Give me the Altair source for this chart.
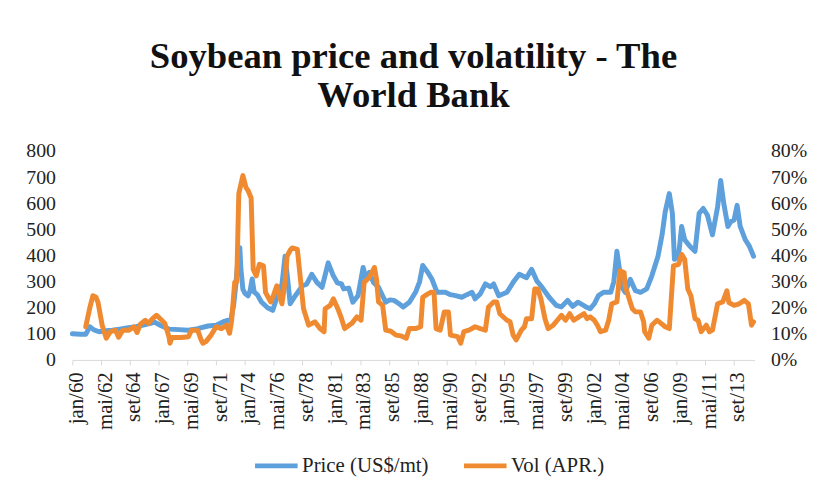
import altair as alt
import pandas as pd

# ---- data (month index: 0 = jan/1960) ----
x_tick_labels = ["jan/60", "mai/62", "set/64", "jan/67", "mai/69", "set/71", "jan/74", "mai/76",
                 "set/78", "jan/81", "mai/83", "set/85", "jan/88", "mai/90", "set/92", "jan/95",
                 "mai/97", "set/99", "jan/02", "mai/04", "set/06", "jan/09", "mai/11", "set/13"]

price_month = [0, 8, 13, 17, 21, 26, 33, 39, 46, 53, 62, 70, 76, 80, 86, 94, 104, 113, 122, 132,
               140, 148, 151, 154, 157, 159, 161, 163, 164, 166, 168, 171, 173, 175, 177, 180, 184,
               190, 195, 200, 204, 207, 209, 212, 217, 224, 228, 233, 238, 243, 249, 254, 258, 262,
               264, 269, 273, 278, 283, 286, 289, 293, 298, 305, 309, 313, 318, 322, 328, 334, 338,
               341, 346, 350, 355, 363, 368, 373, 379, 384, 389, 392, 397, 402, 407, 410, 415, 423,
               429, 435, 442, 447, 452, 456, 464, 471, 476, 482, 487, 492, 500, 504, 508, 512, 517,
               524, 527, 530, 535, 538, 543, 548, 553, 559, 564, 570, 574, 577, 581, 584, 586, 590,
               593, 596, 601, 606, 610, 614, 618, 623, 628, 631, 634, 638, 641, 644, 647, 650, 655,
               659, 663]
price_value = [100, 98, 98, 127, 115, 108, 112, 114, 118, 122, 127, 134, 140, 145, 132, 118, 116, 114,
               120, 130, 133, 148, 152, 148, 210, 284, 380, 430, 350, 270, 255, 245, 265, 310, 260,
               250, 222, 200, 190, 250, 290, 397, 330, 215, 246, 284, 290, 328, 297, 278, 372, 322,
               295, 291, 272, 275, 221, 246, 354, 309, 335, 297, 278, 221, 230, 228, 215, 203, 221,
               259, 300, 362, 335, 309, 259, 259, 250, 246, 240, 250, 259, 234, 253, 291, 280, 291,
               246, 259, 297, 328, 315, 347, 303, 284, 240, 209, 203, 228, 205, 221, 203, 196, 215,
               246, 259, 259, 300, 416, 278, 259, 309, 265, 259, 272, 322, 397, 480, 567, 637, 561,
               385, 400, 511, 460, 435, 416, 561, 580, 555, 479, 586, 687, 599, 511, 530, 536, 592,
               511, 460, 435, 397]

vol_month = [13, 17, 20, 23, 25, 29, 33, 37, 42, 45, 49, 55, 60, 63, 66, 71, 74, 78, 82, 87, 90, 94,
             95, 97, 106, 113, 116, 122, 125, 127, 130, 135, 140, 145, 150, 153, 155, 158, 160, 162,
             166, 169, 171, 174, 176, 179, 182, 186, 188, 193, 196, 199, 202, 204, 207, 209, 212,
             214, 219, 222, 225, 230, 236, 241, 245, 246, 251, 254, 259, 262, 265, 272, 277, 281,
             284, 289, 294, 296, 298, 302, 305, 310, 315, 320, 325, 328, 334, 339, 341, 346, 349,
             352, 354, 358, 362, 366, 368, 375, 378, 381, 386, 392, 397, 402, 405, 410, 413, 416,
             423, 426, 429, 432, 437, 440, 442, 447, 450, 453, 456, 460, 463, 468, 472, 476, 480,
             484, 488, 493, 498, 501, 504, 508, 511, 514, 519, 522, 525, 530, 533, 537, 538, 541,
             545, 548, 553, 556, 557, 561, 564, 569, 573, 577, 581, 585, 590, 593, 596, 599, 602,
             606, 609, 612, 617, 620, 623, 628, 633, 637, 639, 644, 649, 654, 658, 661, 663]
vol_value = [12.7, 20, 24.6, 24, 22, 13.3, 8.3, 10.8, 11.4, 8.7, 11.4, 11.4, 12.7, 10.5, 13.6, 15.2,
             14, 15.8, 17.1, 15.2, 14, 8.9, 6.4, 8.6, 8.6, 8.9, 11.4, 11.4, 8, 6.4, 7, 9.5, 12.7, 12,
             13.3, 10.2, 15, 29.7, 30, 63.7, 70.6, 66, 64.9, 62, 34.7, 32.2, 36.6, 36, 25.9, 22.2,
             25, 28.4, 24, 21.5, 30, 39.7, 42, 42.9, 42.3, 30.9, 19.6, 13.3, 14.6, 12, 10.8, 19.6,
             20.9, 23.4, 19, 15.8, 12, 14, 16.5, 15.2, 29.7, 31.6, 35.4, 31, 22.2, 20.9, 11.4, 11,
             9.5, 9.2, 8.3, 12, 12, 12.7, 24, 25.3, 25.9, 25.9, 12, 11.4, 18.4, 18.4, 9.5, 8.9, 6.4,
             10.8, 11.4, 12.7, 12, 11.4, 20.3, 22.2, 22.2, 17.7, 15.2, 14.6, 9.5, 7.7, 11.4, 12.7,
             15.8, 15.8, 27.2, 27.2, 23.4, 15.8, 12, 13.3, 15.2, 17.1, 15.2, 17.7, 15.2, 16.5, 17.7,
             15.8, 16.5, 15.2, 13.3, 10.8, 11.4, 15.2, 21.5, 22.2, 34.1, 33.5, 28.4, 24.6, 19.6,
             18.4, 18.4, 14.6, 10.8, 8.3, 13.3, 15.2, 14, 12.7, 12, 36, 36.6, 40.4, 38.5, 27.2, 24.6,
             15.8, 15.2, 10.8, 13.3, 10.8, 11.4, 21.5, 22.2, 26.5, 22, 20.9, 21.5, 22.8, 21.5, 13.3,
             14.6]

series_names = ["Price (US$/mt)", "Vol (APR.)"]
series_colors = ["#5DA0DC", "#F08A30"]
price_ticks = list(range(0, 801, 100))
vol_ticks = list(range(0, 81, 10))

price_df = pd.DataFrame({"month": price_month, "value": price_value, "series": series_names[0]})
vol_df = pd.DataFrame({"month": vol_month, "value": vol_value, "series": series_names[1]})

FONT = "Liberation Serif"
TXT = "#222222"
label_js = "[" + ",".join("'%s'" % s for s in x_tick_labels) + "]"

x_enc = alt.X(
    "month:Q",
    scale=alt.Scale(domain=[0, 664], nice=False, zero=False),
    axis=alt.Axis(
        values=[i * 28 for i in range(len(x_tick_labels))],
        labelExpr=label_js + "[round(datum.value/28)]",
        labelAngle=270, labelAlign="right", labelBaseline="middle",
        labelFont=FONT, labelFontSize=21, labelColor=TXT, labelPadding=7,
        labelOverlap=False, labelFlush=False, labelOffset=4,
        tickSize=5, tickColor="#d9d9d9", domainColor="#d9d9d9", domainWidth=1,
        grid=False, title=None,
    ),
)

color_scale = alt.Scale(domain=series_names, range=series_colors)
legend = alt.Legend(
    title=None, orient="none", legendX=182, legendY=294, direction="horizontal",
    symbolType="stroke", symbolSize=1849, symbolStrokeWidth=5,
    labelFont=FONT, labelFontSize=21, labelColor=TXT, labelOffset=2,
    columnPadding=25, padding=0,
)
color_enc = alt.Color("series:N", scale=color_scale, legend=legend)

price_line = alt.Chart(price_df).mark_line(strokeWidth=5, strokeJoin="round", strokeCap="round").encode(
    x=x_enc,
    y=alt.Y("value:Q", scale=alt.Scale(domain=[0, 800], nice=False),
            axis=alt.Axis(values=price_ticks, orient="left", domain=False, ticks=False, grid=False,
                          labelFont=FONT, labelFontSize=20, labelColor=TXT, labelPadding=17, title=None)),
    color=color_enc,
)

vol_line = alt.Chart(vol_df).mark_line(strokeWidth=5, strokeJoin="round", strokeCap="round").encode(
    x=x_enc,
    y=alt.Y("value:Q", scale=alt.Scale(domain=[0, 80], nice=False),
            axis=alt.Axis(values=vol_ticks, orient="right", domain=False, ticks=False, grid=False,
                          labelExpr="datum.value + '%'",
                          labelFont=FONT, labelFontSize=20, labelColor=TXT, labelPadding=16, title=None)),
    color=color_enc,
)

chart = alt.layer(price_line, vol_line).resolve_scale(y="independent").properties(
    width=689, height=211,
    autosize=alt.AutoSizeParams(type="none"),
    padding={"left": 65, "top": 142, "right": 60, "bottom": 136},
    background="white",
    title=alt.TitleParams(
        text=["Soybean price and volatility - The", "World Bank"],
        font=FONT, fontSize=37, fontWeight="bold", color="#111111",
        anchor="middle", lineHeight=40, offset=26,
    ),
).configure_view(stroke=None)

chart.save("out.html", embed_options={"renderer": "svg", "actions": False})
